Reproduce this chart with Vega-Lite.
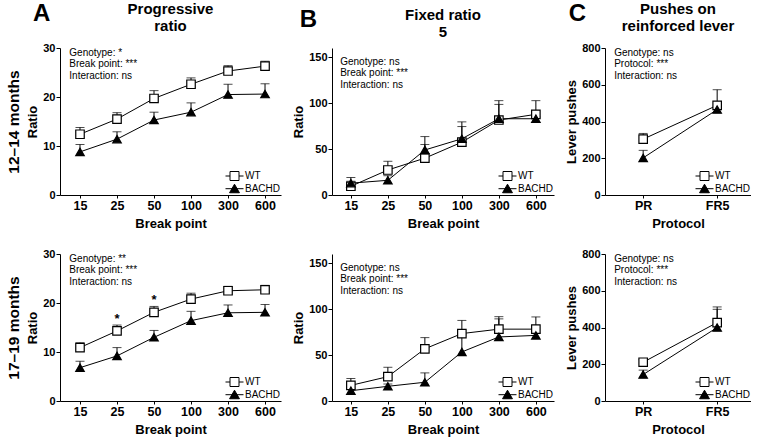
{
"$schema": "https://vega.github.io/schema/vega-lite/v6.json",
"padding": {"left": 6, "top": 2, "right": 0, "bottom": 0},
"config": {
  "font": "Liberation Sans",
  "view": {"stroke": null},
  "axis": {"domainColor": "black", "tickColor": "black", "labelColor": "black", "titleColor": "black", "labelFontWeight": "bold", "titleFontWeight": "bold", "grid": false, "domainWidth": 1, "tickWidth": 1, "labelOverlap": false, "labelSeparation": 0},
  "axisX": {"labelAngle": 0, "labelFontSize": 12.5, "titleFontSize": 13, "tickSize": 3, "labelPadding": 1, "titlePadding": 6},
  "axisY": {"labelFontSize": 11, "titleFontSize": 13, "tickSize": 4, "labelPadding": 1, "titlePadding": 3, "labelOverlap": false},
  "legend": {"labelFontSize": 10, "labelColor": "black", "labelFontWeight": "normal", "title": null, "orient": "bottom-right", "offset": 0, "padding": 0, "symbolSize": 324, "clipHeight": 12, "labelOffset": 1, "rowPadding": 0.7, "symbolStrokeWidth": 1, "symbolStrokeColor": "black"}
},
"datasets": {
  "pr12": [
    {"bp": "15", "genotype": "WT", "mean": 12.4, "upper": 13.8},
    {"bp": "25", "genotype": "WT", "mean": 15.5, "upper": 16.8},
    {"bp": "50", "genotype": "WT", "mean": 19.7, "upper": 21.3},
    {"bp": "100", "genotype": "WT", "mean": 22.6, "upper": 23.9},
    {"bp": "300", "genotype": "WT", "mean": 25.3, "upper": 26.4},
    {"bp": "600", "genotype": "WT", "mean": 26.3, "upper": 27.3},
    {"bp": "15", "genotype": "BACHD", "mean": 8.8, "upper": 10.3},
    {"bp": "25", "genotype": "BACHD", "mean": 11.4, "upper": 12.9},
    {"bp": "50", "genotype": "BACHD", "mean": 15.3, "upper": 16.9},
    {"bp": "100", "genotype": "BACHD", "mean": 16.9, "upper": 18.8},
    {"bp": "300", "genotype": "BACHD", "mean": 20.5, "upper": 22.6},
    {"bp": "600", "genotype": "BACHD", "mean": 20.6, "upper": 22.7}
  ],
  "fr12": [
    {"bp": "15", "genotype": "WT", "mean": 9.5, "upper": 15},
    {"bp": "25", "genotype": "WT", "mean": 27.2, "upper": 36.7},
    {"bp": "50", "genotype": "WT", "mean": 40.1, "upper": 55},
    {"bp": "100", "genotype": "WT", "mean": 57.5, "upper": 74.5},
    {"bp": "300", "genotype": "WT", "mean": 81.6, "upper": 98.6},
    {"bp": "600", "genotype": "WT", "mean": 87.8, "upper": 102.7},
    {"bp": "15", "genotype": "BACHD", "mean": 12.9, "upper": 19},
    {"bp": "25", "genotype": "BACHD", "mean": 16, "upper": 21},
    {"bp": "50", "genotype": "BACHD", "mean": 49, "upper": 63.6},
    {"bp": "100", "genotype": "BACHD", "mean": 61.2, "upper": 79.6},
    {"bp": "300", "genotype": "BACHD", "mean": 83, "upper": 102.7},
    {"bp": "600", "genotype": "BACHD", "mean": 83, "upper": 85}
  ],
  "lp12": [
    {"bp": "PR", "genotype": "WT", "mean": 304, "upper": 335},
    {"bp": "FR5", "genotype": "WT", "mean": 488, "upper": 573},
    {"bp": "PR", "genotype": "BACHD", "mean": 202, "upper": 243},
    {"bp": "FR5", "genotype": "BACHD", "mean": 465, "upper": 478}
  ],
  "pr17": [
    {"bp": "15", "genotype": "WT", "mean": 10.9, "upper": 11.9},
    {"bp": "25", "genotype": "WT", "mean": 14.3, "upper": 15.5, "sig": "*"},
    {"bp": "50", "genotype": "WT", "mean": 18.1, "upper": 19.3, "sig": "*"},
    {"bp": "100", "genotype": "WT", "mean": 20.8, "upper": 22.0},
    {"bp": "300", "genotype": "WT", "mean": 22.5, "upper": 23.4},
    {"bp": "600", "genotype": "WT", "mean": 22.7, "upper": 23.6},
    {"bp": "15", "genotype": "BACHD", "mean": 6.8, "upper": 8.1},
    {"bp": "25", "genotype": "BACHD", "mean": 9.2, "upper": 10.9},
    {"bp": "50", "genotype": "BACHD", "mean": 13.0, "upper": 14.4},
    {"bp": "100", "genotype": "BACHD", "mean": 16.4, "upper": 18.3},
    {"bp": "300", "genotype": "BACHD", "mean": 18.0, "upper": 19.6},
    {"bp": "600", "genotype": "BACHD", "mean": 18.1, "upper": 19.7}
  ],
  "fr17": [
    {"bp": "15", "genotype": "WT", "mean": 17, "upper": 24.5},
    {"bp": "25", "genotype": "WT", "mean": 26.5, "upper": 36.7},
    {"bp": "50", "genotype": "WT", "mean": 56.8, "upper": 69},
    {"bp": "100", "genotype": "WT", "mean": 73.4, "upper": 87.7},
    {"bp": "300", "genotype": "WT", "mean": 78.2, "upper": 91.8},
    {"bp": "600", "genotype": "WT", "mean": 78.2, "upper": 91.5},
    {"bp": "15", "genotype": "BACHD", "mean": 11.2, "upper": 14},
    {"bp": "25", "genotype": "BACHD", "mean": 16, "upper": 18.5},
    {"bp": "50", "genotype": "BACHD", "mean": 20.4, "upper": 30.6},
    {"bp": "100", "genotype": "BACHD", "mean": 53.4, "upper": 72},
    {"bp": "300", "genotype": "BACHD", "mean": 69.7, "upper": 89.4},
    {"bp": "600", "genotype": "BACHD", "mean": 71.4, "upper": 74}
  ],
  "lp17": [
    {"bp": "PR", "genotype": "WT", "mean": 211, "upper": 225},
    {"bp": "FR5", "genotype": "WT", "mean": 427, "upper": 512},
    {"bp": "PR", "genotype": "BACHD", "mean": 144, "upper": 168},
    {"bp": "FR5", "genotype": "BACHD", "mean": 400, "upper": 499}
  ]
},
"spacing": 17,
"resolve": {"scale": {"shape": "independent", "fill": "independent", "stroke": "independent"}},
"vconcat": [
 {
  "spacing": 11,
  "resolve": {"scale": {"shape": "independent", "fill": "independent", "stroke": "independent"}},
  "hconcat": [
   {
    "title": {"text": "A", "anchor": "start", "frame": "bounds", "fontSize": 24, "fontWeight": "bold", "color": "black", "offset": 0, "dy": 43, "dx": 27, "baseline": "alphabetic"},
    "resolve": {"scale": {"shape": "independent", "fill": "independent", "stroke": "independent"}},
    "vconcat": [
     {
      "title": {"text": ["Progressive", "ratio"], "fontSize": 15, "fontWeight": "bold", "color": "black", "anchor": "middle", "frame": "group", "offset": 8, "lineHeight": 17},
      "width": 221, "height": 147,
      "data": {"name": "pr12"},
      "resolve": {"scale": {"y": "independent"}},
      "layer": [
       {"layer": [
        {"mark": {"type": "rule", "color": "black", "strokeWidth": 1},
         "encoding": {
          "x": {"field": "bp", "type": "ordinal", "sort": null, "scale": {"type": "point", "domain": ["15", "25", "50", "100", "300", "600"], "padding": 0.486, "align": 0.556}, "axis": {"title": "Break point"}},
          "y": {"field": "mean", "type": "quantitative", "scale": {"domain": [0, 30]}, "axis": {"title": "Ratio", "values": [0, 10, 20, 30], "tickCount": 4, "labelOverlap": false}},
          "y2": {"field": "upper"}}},
        {"mark": {"type": "tick", "orient": "horizontal", "color": "black", "size": 9, "thickness": 1},
         "encoding": {"x": {"field": "bp", "type": "ordinal", "sort": null}, "y": {"field": "upper", "type": "quantitative", "axis": {"title": "Ratio", "values": [0, 10, 20, 30], "tickCount": 4, "labelOverlap": false}}}},
        {"mark": {"type": "line", "color": "black", "strokeWidth": 1},
         "encoding": {"x": {"field": "bp", "type": "ordinal", "sort": null}, "y": {"field": "mean", "type": "quantitative", "axis": {"title": "Ratio", "values": [0, 10, 20, 30], "tickCount": 4, "labelOverlap": false}}, "detail": {"field": "genotype"}}},
        {"mark": {"type": "point", "filled": true, "size": 72, "stroke": "black", "strokeWidth": 1.2, "opacity": 1},
         "encoding": {"x": {"field": "bp", "type": "ordinal", "sort": null}, "y": {"field": "mean", "type": "quantitative", "axis": {"title": "Ratio", "values": [0, 10, 20, 30], "tickCount": 4, "labelOverlap": false}},
          "shape": {"condition": {"test": "datum.genotype === 'WT'", "value": "square"}, "value": "triangle-up"},
          "fill": {"condition": {"test": "datum.genotype === 'WT'", "value": "white"}, "value": "black"}}},
        {"transform": [{"filter": "false"}],
         "mark": {"type": "point", "filled": true, "size": 324, "strokeWidth": 1, "opacity": 1},
         "encoding": {"x": {"field": "bp", "type": "ordinal", "sort": null}, "y": {"field": "mean", "type": "quantitative", "axis": {"title": "Ratio", "values": [0, 10, 20, 30], "tickCount": 4, "labelOverlap": false}},
          "shape": {"field": "genotype", "type": "nominal", "scale": {"domain": ["WT", "BACHD"], "range": ["M-1,0H-0.5M0.5,0H1M-0.5,-0.5H0.5V0.5H-0.5Z", "M-1,0H1M0,-0.5L0.55,0.45H-0.55Z"]}},
          "fill": {"field": "genotype", "type": "nominal", "scale": {"domain": ["WT", "BACHD"], "range": ["white", "black"]}},
          "stroke": {"field": "genotype", "type": "nominal", "scale": {"domain": ["WT", "BACHD"], "range": ["black", "black"]}}}},
        {"data": {"values": [{}]},
         "mark": {"type": "text", "align": "left", "baseline": "top", "fontSize": 10, "lineHeight": 11.3, "dx": -10.7, "color": "black"},
         "encoding": {"x": {"datum": "15", "type": "ordinal"}, "y": {"datum": 30, "type": "quantitative"}, "text": {"value": ["Genotype: *", "Break point: ***", "Interaction: ns"]}}}
       ]},
       {"data": {"values": [{}]},
        "mark": {"type": "point", "opacity": 0},
        "encoding": {"y": {"datum": 0.5, "type": "quantitative", "scale": {"domain": [0, 1]}, "axis": {"orient": "left", "title": "12–14 months", "labels": false, "ticks": false, "domain": false, "titleFontSize": 15.5, "titlePadding": 39}}}}
      ]
     }
    ]
   },
   {
    "title": {"text": "B", "anchor": "start", "frame": "bounds", "fontSize": 24, "fontWeight": "bold", "color": "black", "offset": 0, "dy": 43, "dx": 7, "baseline": "alphabetic"},
    "resolve": {"scale": {"shape": "independent", "fill": "independent", "stroke": "independent"}},
    "vconcat": [
     {
      "title": {"text": ["Fixed ratio", "5"], "fontSize": 15, "fontWeight": "bold", "color": "black", "anchor": "middle", "frame": "group", "offset": 8, "lineHeight": 17},
      "width": 222, "height": 147,
      "data": {"name": "fr12"},
      "layer": [
        {"mark": {"type": "rule", "color": "black", "strokeWidth": 1},
         "encoding": {
          "x": {"field": "bp", "type": "ordinal", "sort": null, "scale": {"type": "point", "domain": ["15", "25", "50", "100", "300", "600"], "padding": 0.5, "align": 0.51}, "axis": {"title": "Break point"}},
          "y": {"field": "mean", "type": "quantitative", "scale": {"domain": [0, 150]}, "axis": {"title": "Ratio", "values": [0, 50, 100, 150], "tickCount": 4, "labelOverlap": false}},
          "y2": {"field": "upper"}}},
        {"mark": {"type": "tick", "orient": "horizontal", "color": "black", "size": 9, "thickness": 1},
         "encoding": {"x": {"field": "bp", "type": "ordinal", "sort": null}, "y": {"field": "upper", "type": "quantitative", "axis": {"title": "Ratio", "values": [0, 50, 100, 150], "tickCount": 4, "labelOverlap": false}}}},
        {"mark": {"type": "line", "color": "black", "strokeWidth": 1},
         "encoding": {"x": {"field": "bp", "type": "ordinal", "sort": null}, "y": {"field": "mean", "type": "quantitative", "axis": {"title": "Ratio", "values": [0, 50, 100, 150], "tickCount": 4, "labelOverlap": false}}, "detail": {"field": "genotype"}}},
        {"mark": {"type": "point", "filled": true, "size": 72, "stroke": "black", "strokeWidth": 1.2, "opacity": 1},
         "encoding": {"x": {"field": "bp", "type": "ordinal", "sort": null}, "y": {"field": "mean", "type": "quantitative", "axis": {"title": "Ratio", "values": [0, 50, 100, 150], "tickCount": 4, "labelOverlap": false}},
          "shape": {"condition": {"test": "datum.genotype === 'WT'", "value": "square"}, "value": "triangle-up"},
          "fill": {"condition": {"test": "datum.genotype === 'WT'", "value": "white"}, "value": "black"}}},
        {"transform": [{"filter": "false"}],
         "mark": {"type": "point", "filled": true, "size": 324, "strokeWidth": 1, "opacity": 1},
         "encoding": {"x": {"field": "bp", "type": "ordinal", "sort": null}, "y": {"field": "mean", "type": "quantitative", "axis": {"title": "Ratio", "values": [0, 50, 100, 150], "tickCount": 4, "labelOverlap": false}},
          "shape": {"field": "genotype", "type": "nominal", "scale": {"domain": ["WT", "BACHD"], "range": ["M-1,0H-0.5M0.5,0H1M-0.5,-0.5H0.5V0.5H-0.5Z", "M-1,0H1M0,-0.5L0.55,0.45H-0.55Z"]}},
          "fill": {"field": "genotype", "type": "nominal", "scale": {"domain": ["WT", "BACHD"], "range": ["white", "black"]}},
          "stroke": {"field": "genotype", "type": "nominal", "scale": {"domain": ["WT", "BACHD"], "range": ["black", "black"]}}}},
        {"data": {"values": [{}]},
         "mark": {"type": "text", "align": "left", "baseline": "top", "fontSize": 10, "lineHeight": 11.3, "dx": -10.7, "color": "black"},
         "encoding": {"x": {"datum": "15", "type": "ordinal"}, "y": {"datum": 150, "type": "quantitative"}, "text": {"value": ["Genotype: ns", "Break point: ***", "Interaction: ns"]}}}
      ]
     }
    ]
   },
   {
    "title": {"text": "C", "anchor": "start", "frame": "bounds", "fontSize": 24, "fontWeight": "bold", "color": "black", "offset": 0, "dy": 43, "dx": 3, "baseline": "alphabetic"},
    "resolve": {"scale": {"shape": "independent", "fill": "independent", "stroke": "independent"}},
    "vconcat": [
     {
      "title": {"text": ["Pushes on", "reinforced lever"], "fontSize": 15, "fontWeight": "bold", "color": "black", "anchor": "middle", "frame": "group", "offset": 8, "lineHeight": 17},
      "width": 146, "height": 147,
      "data": {"name": "lp12"},
      "layer": [
        {"mark": {"type": "rule", "color": "black", "strokeWidth": 1},
         "encoding": {
          "x": {"field": "bp", "type": "ordinal", "sort": null, "scale": {"type": "point", "domain": ["PR", "FR5"], "padding": 0.4865, "align": 0.53}, "axis": {"title": "Protocol"}},
          "y": {"field": "mean", "type": "quantitative", "scale": {"domain": [0, 800]}, "axis": {"title": "Lever pushes", "values": [0, 200, 400, 600, 800], "tickCount": 5, "labelOverlap": false}},
          "y2": {"field": "upper"}}},
        {"mark": {"type": "tick", "orient": "horizontal", "color": "black", "size": 9, "thickness": 1},
         "encoding": {"x": {"field": "bp", "type": "ordinal", "sort": null}, "y": {"field": "upper", "type": "quantitative", "axis": {"title": "Lever pushes", "values": [0, 200, 400, 600, 800], "tickCount": 5, "labelOverlap": false}}}},
        {"mark": {"type": "line", "color": "black", "strokeWidth": 1},
         "encoding": {"x": {"field": "bp", "type": "ordinal", "sort": null}, "y": {"field": "mean", "type": "quantitative", "axis": {"title": "Lever pushes", "values": [0, 200, 400, 600, 800], "tickCount": 5, "labelOverlap": false}}, "detail": {"field": "genotype"}}},
        {"mark": {"type": "point", "filled": true, "size": 72, "stroke": "black", "strokeWidth": 1.2, "opacity": 1},
         "encoding": {"x": {"field": "bp", "type": "ordinal", "sort": null}, "y": {"field": "mean", "type": "quantitative", "axis": {"title": "Lever pushes", "values": [0, 200, 400, 600, 800], "tickCount": 5, "labelOverlap": false}},
          "shape": {"condition": {"test": "datum.genotype === 'WT'", "value": "square"}, "value": "triangle-up"},
          "fill": {"condition": {"test": "datum.genotype === 'WT'", "value": "white"}, "value": "black"}}},
        {"transform": [{"filter": "false"}],
         "mark": {"type": "point", "filled": true, "size": 324, "strokeWidth": 1, "opacity": 1},
         "encoding": {"x": {"field": "bp", "type": "ordinal", "sort": null}, "y": {"field": "mean", "type": "quantitative", "axis": {"title": "Lever pushes", "values": [0, 200, 400, 600, 800], "tickCount": 5, "labelOverlap": false}},
          "shape": {"field": "genotype", "type": "nominal", "scale": {"domain": ["WT", "BACHD"], "range": ["M-1,0H-0.5M0.5,0H1M-0.5,-0.5H0.5V0.5H-0.5Z", "M-1,0H1M0,-0.5L0.55,0.45H-0.55Z"]}},
          "fill": {"field": "genotype", "type": "nominal", "scale": {"domain": ["WT", "BACHD"], "range": ["white", "black"]}},
          "stroke": {"field": "genotype", "type": "nominal", "scale": {"domain": ["WT", "BACHD"], "range": ["black", "black"]}}}},
        {"data": {"values": [{}]},
         "mark": {"type": "text", "align": "left", "baseline": "top", "fontSize": 10, "lineHeight": 11.3, "dx": -29, "color": "black"},
         "encoding": {"x": {"datum": "PR", "type": "ordinal"}, "y": {"datum": 800, "type": "quantitative"}, "text": {"value": ["Genotype: ns", "Protocol: ***", "Interaction: ns"]}}}
      ]
     }
    ]
   }
  ]
 },
 {
  "spacing": 11,
  "resolve": {"scale": {"shape": "independent", "fill": "independent", "stroke": "independent"}},
  "hconcat": [
     {
      "width": 221, "height": 147,
      "data": {"name": "pr17"},
      "resolve": {"scale": {"y": "independent"}},
      "layer": [
       {"layer": [
        {"mark": {"type": "rule", "color": "black", "strokeWidth": 1},
         "encoding": {
          "x": {"field": "bp", "type": "ordinal", "sort": null, "scale": {"type": "point", "domain": ["15", "25", "50", "100", "300", "600"], "padding": 0.486, "align": 0.556}, "axis": {"title": "Break point"}},
          "y": {"field": "mean", "type": "quantitative", "scale": {"domain": [0, 30]}, "axis": {"title": "Ratio", "values": [0, 10, 20, 30], "tickCount": 4, "labelOverlap": false}},
          "y2": {"field": "upper"}}},
        {"mark": {"type": "tick", "orient": "horizontal", "color": "black", "size": 9, "thickness": 1},
         "encoding": {"x": {"field": "bp", "type": "ordinal", "sort": null}, "y": {"field": "upper", "type": "quantitative", "axis": {"title": "Ratio", "values": [0, 10, 20, 30], "tickCount": 4, "labelOverlap": false}}}},
        {"mark": {"type": "line", "color": "black", "strokeWidth": 1},
         "encoding": {"x": {"field": "bp", "type": "ordinal", "sort": null}, "y": {"field": "mean", "type": "quantitative", "axis": {"title": "Ratio", "values": [0, 10, 20, 30], "tickCount": 4, "labelOverlap": false}}, "detail": {"field": "genotype"}}},
        {"mark": {"type": "point", "filled": true, "size": 72, "stroke": "black", "strokeWidth": 1.2, "opacity": 1},
         "encoding": {"x": {"field": "bp", "type": "ordinal", "sort": null}, "y": {"field": "mean", "type": "quantitative", "axis": {"title": "Ratio", "values": [0, 10, 20, 30], "tickCount": 4, "labelOverlap": false}},
          "shape": {"condition": {"test": "datum.genotype === 'WT'", "value": "square"}, "value": "triangle-up"},
          "fill": {"condition": {"test": "datum.genotype === 'WT'", "value": "white"}, "value": "black"}}},
        {"transform": [{"filter": "false"}],
         "mark": {"type": "point", "filled": true, "size": 324, "strokeWidth": 1, "opacity": 1},
         "encoding": {"x": {"field": "bp", "type": "ordinal", "sort": null}, "y": {"field": "mean", "type": "quantitative", "axis": {"title": "Ratio", "values": [0, 10, 20, 30], "tickCount": 4, "labelOverlap": false}},
          "shape": {"field": "genotype", "type": "nominal", "scale": {"domain": ["WT", "BACHD"], "range": ["M-1,0H-0.5M0.5,0H1M-0.5,-0.5H0.5V0.5H-0.5Z", "M-1,0H1M0,-0.5L0.55,0.45H-0.55Z"]}},
          "fill": {"field": "genotype", "type": "nominal", "scale": {"domain": ["WT", "BACHD"], "range": ["white", "black"]}},
          "stroke": {"field": "genotype", "type": "nominal", "scale": {"domain": ["WT", "BACHD"], "range": ["black", "black"]}}}},
        {"transform": [{"filter": "datum.sig"}],
         "mark": {"type": "text", "fontSize": 13, "fontWeight": "bold", "baseline": "alphabetic", "dy": -2, "color": "black"},
         "encoding": {"x": {"field": "bp", "type": "ordinal", "sort": null}, "y": {"field": "upper", "type": "quantitative"}, "text": {"field": "sig"}}},
        {"data": {"values": [{}]},
         "mark": {"type": "text", "align": "left", "baseline": "top", "fontSize": 10, "lineHeight": 11.3, "dx": -10.7, "color": "black"},
         "encoding": {"x": {"datum": "15", "type": "ordinal"}, "y": {"datum": 30, "type": "quantitative"}, "text": {"value": ["Genotype: **", "Break point: ***", "Interaction: ns"]}}}
       ]},
       {"data": {"values": [{}]},
        "mark": {"type": "point", "opacity": 0},
        "encoding": {"y": {"datum": 0.5, "type": "quantitative", "scale": {"domain": [0, 1]}, "axis": {"orient": "left", "title": "17–19 months", "labels": false, "ticks": false, "domain": false, "titleFontSize": 15.5, "titlePadding": 39}}}}
      ]
     },
     {
      "width": 222, "height": 147,
      "data": {"name": "fr17"},
      "layer": [
        {"mark": {"type": "rule", "color": "black", "strokeWidth": 1},
         "encoding": {
          "x": {"field": "bp", "type": "ordinal", "sort": null, "scale": {"type": "point", "domain": ["15", "25", "50", "100", "300", "600"], "padding": 0.5, "align": 0.51}, "axis": {"title": "Break point"}},
          "y": {"field": "mean", "type": "quantitative", "scale": {"domain": [0, 150]}, "axis": {"title": "Ratio", "values": [0, 50, 100, 150], "tickCount": 4, "labelOverlap": false}},
          "y2": {"field": "upper"}}},
        {"mark": {"type": "tick", "orient": "horizontal", "color": "black", "size": 9, "thickness": 1},
         "encoding": {"x": {"field": "bp", "type": "ordinal", "sort": null}, "y": {"field": "upper", "type": "quantitative", "axis": {"title": "Ratio", "values": [0, 50, 100, 150], "tickCount": 4, "labelOverlap": false}}}},
        {"mark": {"type": "line", "color": "black", "strokeWidth": 1},
         "encoding": {"x": {"field": "bp", "type": "ordinal", "sort": null}, "y": {"field": "mean", "type": "quantitative", "axis": {"title": "Ratio", "values": [0, 50, 100, 150], "tickCount": 4, "labelOverlap": false}}, "detail": {"field": "genotype"}}},
        {"mark": {"type": "point", "filled": true, "size": 72, "stroke": "black", "strokeWidth": 1.2, "opacity": 1},
         "encoding": {"x": {"field": "bp", "type": "ordinal", "sort": null}, "y": {"field": "mean", "type": "quantitative", "axis": {"title": "Ratio", "values": [0, 50, 100, 150], "tickCount": 4, "labelOverlap": false}},
          "shape": {"condition": {"test": "datum.genotype === 'WT'", "value": "square"}, "value": "triangle-up"},
          "fill": {"condition": {"test": "datum.genotype === 'WT'", "value": "white"}, "value": "black"}}},
        {"transform": [{"filter": "false"}],
         "mark": {"type": "point", "filled": true, "size": 324, "strokeWidth": 1, "opacity": 1},
         "encoding": {"x": {"field": "bp", "type": "ordinal", "sort": null}, "y": {"field": "mean", "type": "quantitative", "axis": {"title": "Ratio", "values": [0, 50, 100, 150], "tickCount": 4, "labelOverlap": false}},
          "shape": {"field": "genotype", "type": "nominal", "scale": {"domain": ["WT", "BACHD"], "range": ["M-1,0H-0.5M0.5,0H1M-0.5,-0.5H0.5V0.5H-0.5Z", "M-1,0H1M0,-0.5L0.55,0.45H-0.55Z"]}},
          "fill": {"field": "genotype", "type": "nominal", "scale": {"domain": ["WT", "BACHD"], "range": ["white", "black"]}},
          "stroke": {"field": "genotype", "type": "nominal", "scale": {"domain": ["WT", "BACHD"], "range": ["black", "black"]}}}},
        {"data": {"values": [{}]},
         "mark": {"type": "text", "align": "left", "baseline": "top", "fontSize": 10, "lineHeight": 11.3, "dx": -10.7, "color": "black"},
         "encoding": {"x": {"datum": "15", "type": "ordinal"}, "y": {"datum": 150, "type": "quantitative"}, "text": {"value": ["Genotype: ns", "Break point: ***", "Interaction: ns"]}}}
      ]
     },
     {
      "width": 146, "height": 147,
      "data": {"name": "lp17"},
      "layer": [
        {"mark": {"type": "rule", "color": "black", "strokeWidth": 1},
         "encoding": {
          "x": {"field": "bp", "type": "ordinal", "sort": null, "scale": {"type": "point", "domain": ["PR", "FR5"], "padding": 0.4865, "align": 0.53}, "axis": {"title": "Protocol"}},
          "y": {"field": "mean", "type": "quantitative", "scale": {"domain": [0, 800]}, "axis": {"title": "Lever pushes", "values": [0, 200, 400, 600, 800], "tickCount": 5, "labelOverlap": false}},
          "y2": {"field": "upper"}}},
        {"mark": {"type": "tick", "orient": "horizontal", "color": "black", "size": 9, "thickness": 1},
         "encoding": {"x": {"field": "bp", "type": "ordinal", "sort": null}, "y": {"field": "upper", "type": "quantitative", "axis": {"title": "Lever pushes", "values": [0, 200, 400, 600, 800], "tickCount": 5, "labelOverlap": false}}}},
        {"mark": {"type": "line", "color": "black", "strokeWidth": 1},
         "encoding": {"x": {"field": "bp", "type": "ordinal", "sort": null}, "y": {"field": "mean", "type": "quantitative", "axis": {"title": "Lever pushes", "values": [0, 200, 400, 600, 800], "tickCount": 5, "labelOverlap": false}}, "detail": {"field": "genotype"}}},
        {"mark": {"type": "point", "filled": true, "size": 72, "stroke": "black", "strokeWidth": 1.2, "opacity": 1},
         "encoding": {"x": {"field": "bp", "type": "ordinal", "sort": null}, "y": {"field": "mean", "type": "quantitative", "axis": {"title": "Lever pushes", "values": [0, 200, 400, 600, 800], "tickCount": 5, "labelOverlap": false}},
          "shape": {"condition": {"test": "datum.genotype === 'WT'", "value": "square"}, "value": "triangle-up"},
          "fill": {"condition": {"test": "datum.genotype === 'WT'", "value": "white"}, "value": "black"}}},
        {"transform": [{"filter": "false"}],
         "mark": {"type": "point", "filled": true, "size": 324, "strokeWidth": 1, "opacity": 1},
         "encoding": {"x": {"field": "bp", "type": "ordinal", "sort": null}, "y": {"field": "mean", "type": "quantitative", "axis": {"title": "Lever pushes", "values": [0, 200, 400, 600, 800], "tickCount": 5, "labelOverlap": false}},
          "shape": {"field": "genotype", "type": "nominal", "scale": {"domain": ["WT", "BACHD"], "range": ["M-1,0H-0.5M0.5,0H1M-0.5,-0.5H0.5V0.5H-0.5Z", "M-1,0H1M0,-0.5L0.55,0.45H-0.55Z"]}},
          "fill": {"field": "genotype", "type": "nominal", "scale": {"domain": ["WT", "BACHD"], "range": ["white", "black"]}},
          "stroke": {"field": "genotype", "type": "nominal", "scale": {"domain": ["WT", "BACHD"], "range": ["black", "black"]}}}},
        {"data": {"values": [{}]},
         "mark": {"type": "text", "align": "left", "baseline": "top", "fontSize": 10, "lineHeight": 11.3, "dx": -29, "color": "black"},
         "encoding": {"x": {"datum": "PR", "type": "ordinal"}, "y": {"datum": 800, "type": "quantitative"}, "text": {"value": ["Genotype: ns", "Protocol: ***", "Interaction: ns"]}}}
      ]
     }
  ]
 }
]
}
